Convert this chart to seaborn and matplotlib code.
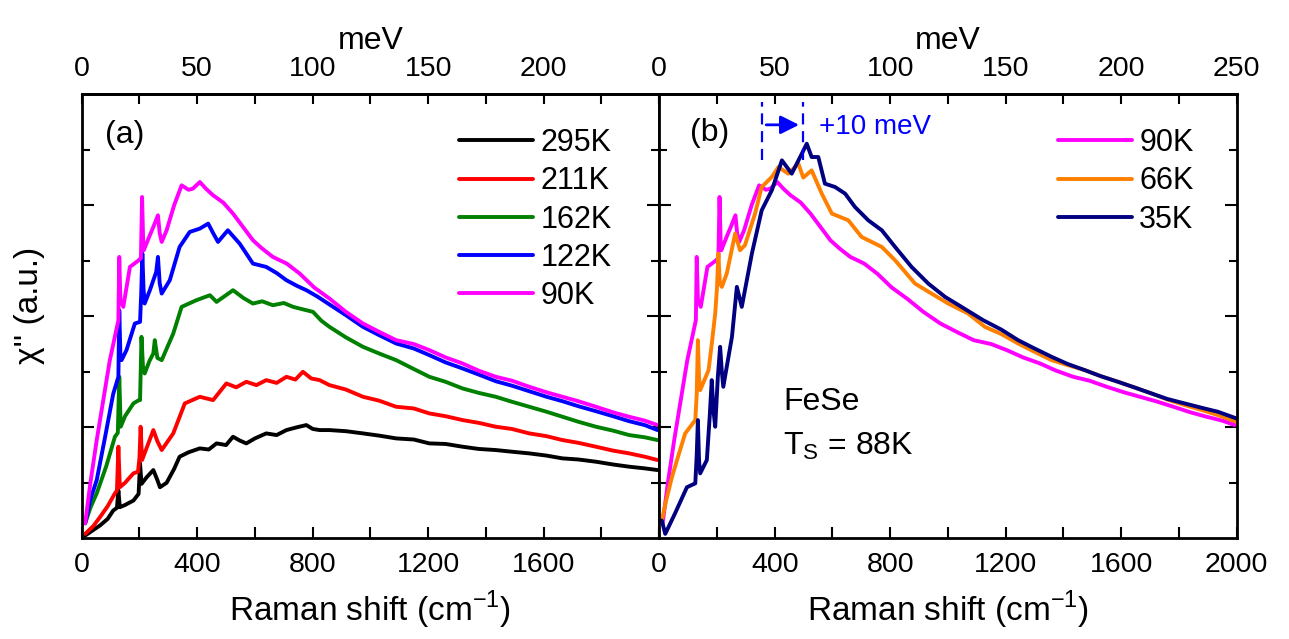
import matplotlib
matplotlib.use("Agg")
import matplotlib.pyplot as plt
import seaborn as sns

# Raman shift (cm^-1) and chi'' (a.u.), panel (a)
x_295 = [12, 40, 63, 90, 109, 122, 127, 132, 150, 179, 197, 202, 207, 225, 248, 262, 271, 294, 320, 339,
         370, 409, 440, 467, 500, 524, 548, 570, 600, 639, 675, 709, 745, 778, 800, 824, 858, 915, 974, 1030,
         1089, 1150, 1204, 1260, 1319, 1375, 1434, 1490, 1550, 1610, 1665, 1720, 1781, 1840, 1896, 1950, 1994]
y_295 = [0.05, 0.15, 0.23, 0.35, 0.50, 0.55, 0.86, 0.56, 0.60, 0.68, 0.80, 1.35, 0.98, 1.10, 1.23, 1.05, 0.92,
         1.00, 1.25, 1.47, 1.55, 1.62, 1.60, 1.71, 1.68, 1.83, 1.76, 1.71, 1.80, 1.89, 1.86, 1.95, 2.00, 2.04,
         1.97, 1.95, 1.95, 1.93, 1.89, 1.85, 1.80, 1.78, 1.71, 1.70, 1.65, 1.61, 1.59, 1.56, 1.53, 1.49, 1.44,
         1.42, 1.38, 1.33, 1.29, 1.26, 1.23]

x_211 = [12, 40, 63, 90, 115, 122, 127, 132, 150, 179, 195, 200, 204, 209, 230, 248, 262, 277, 317, 357, 409,
         455, 501, 535, 570, 605, 639, 675, 709, 740, 766, 795, 824, 858, 915, 974, 1030, 1089, 1150, 1204,
         1260, 1319, 1375, 1434, 1490, 1550, 1610, 1665, 1720, 1781, 1840, 1896, 1950, 1994]
y_211 = [0.08, 0.22, 0.38, 0.58, 0.81, 0.86, 1.65, 0.92, 1.00, 1.17, 1.20, 1.45, 2.01, 1.41, 1.70, 1.95, 1.75,
         1.59, 1.89, 2.43, 2.55, 2.49, 2.79, 2.72, 2.82, 2.76, 2.85, 2.80, 2.91, 2.86, 3.00, 2.88, 2.85, 2.76,
         2.68, 2.55, 2.48, 2.37, 2.34, 2.25, 2.20, 2.13, 2.08, 2.01, 1.97, 1.89, 1.84, 1.77, 1.72, 1.65, 1.58,
         1.53, 1.47, 1.41]

x_162 = [12, 30, 52, 85, 115, 125, 130, 135, 150, 179, 198, 202, 207, 212, 218, 235, 248, 253, 262, 277, 317,
         346, 397, 444, 467, 524, 560, 593, 625, 662, 700, 732, 770, 801, 830, 858, 915, 974, 1030, 1089, 1150,
         1204, 1260, 1319, 1375, 1434, 1490, 1550, 1610, 1665, 1720, 1781, 1840, 1896, 1950, 1994]
y_162 = [0.27, 0.55, 0.81, 1.30, 1.83, 1.90, 2.91, 2.01, 2.20, 2.43, 2.49, 2.49, 3.63, 3.10, 2.97, 3.20, 3.33,
         3.57, 3.25, 3.21, 3.69, 4.17, 4.29, 4.38, 4.26, 4.47, 4.33, 4.23, 4.27, 4.20, 4.24, 4.17, 4.12, 4.08,
         3.92, 3.81, 3.62, 3.45, 3.33, 3.21, 3.05, 2.91, 2.82, 2.70, 2.62, 2.55, 2.46, 2.37, 2.28, 2.19, 2.10,
         2.01, 1.94, 1.86, 1.82, 1.77]

x_122 = [12, 30, 52, 80, 109, 127, 130, 134, 138, 155, 184, 202, 206, 210, 214, 218, 236, 258, 264, 270, 277,
         305, 339, 374, 409, 438, 455, 472, 506, 547, 593, 639, 675, 709, 745, 778, 815, 853, 915, 974, 1030,
         1089, 1150, 1204, 1260, 1319, 1375, 1434, 1490, 1550, 1610, 1665, 1720, 1781, 1840, 1896, 1950, 1994]
y_122 = [0.27, 0.70, 1.05, 1.80, 2.60, 2.91, 4.11, 3.30, 3.21, 3.39, 3.87, 3.90, 4.40, 5.13, 4.50, 4.23, 4.47,
         4.80, 5.07, 4.60, 4.41, 4.65, 5.25, 5.52, 5.58, 5.67, 5.50, 5.34, 5.55, 5.31, 4.95, 4.89, 4.78, 4.65,
         4.55, 4.47, 4.36, 4.23, 4.02, 3.81, 3.66, 3.51, 3.42, 3.30, 3.17, 3.06, 2.95, 2.83, 2.75, 2.65, 2.55,
         2.47, 2.38, 2.29, 2.20, 2.11, 2.04, 1.95]

# 90K is shown in both panels
x_90 = [12, 30, 52, 75, 97, 127, 130, 134, 144, 167, 195, 205, 209, 213, 215, 235, 248, 264, 270, 277, 294,
        320, 346, 370, 385, 409, 430, 455, 490, 524, 560, 593, 625, 662, 710, 755, 805, 858, 915, 974, 1030,
        1089, 1150, 1204, 1260, 1319, 1375, 1434, 1490, 1550, 1610, 1665, 1720, 1781, 1840, 1896, 1950, 1994]
y_90 = [0.27, 1.00, 1.77, 2.50, 3.20, 3.93, 5.07, 4.30, 4.17, 4.89, 5.00, 5.05, 6.15, 5.30, 5.19, 5.45, 5.61,
        5.82, 5.50, 5.34, 5.55, 6.00, 6.36, 6.28, 6.30, 6.42, 6.30, 6.18, 6.05, 5.85, 5.60, 5.37, 5.22, 5.07,
        4.95, 4.77, 4.52, 4.32, 4.08, 3.87, 3.72, 3.57, 3.50, 3.39, 3.26, 3.15, 3.02, 2.91, 2.84, 2.73, 2.63,
        2.55, 2.47, 2.37, 2.27, 2.19, 2.12, 2.04]

# panel (b)
x_66 = [9, 25, 44, 67, 90, 125, 130, 134, 138, 142, 171, 182, 194, 200, 205, 210, 217, 234, 263, 280, 297, 332,
        355, 390, 413, 447, 482, 499, 528, 563, 598, 655, 701, 771, 817, 886, 943, 1001, 1070, 1128, 1185, 1243,
        1300, 1359, 1415, 1474, 1530, 1589, 1645, 1705, 1760, 1820, 1880, 1935, 1999]
y_66 = [0.32, 0.70, 1.10, 1.50, 1.89, 2.13, 2.60, 3.57, 2.90, 2.67, 3.03, 3.50, 4.05, 4.50, 5.13, 4.60, 4.53,
        4.77, 5.49, 5.19, 5.28, 5.85, 6.33, 6.51, 6.69, 6.57, 6.75, 6.50, 6.63, 6.21, 5.85, 5.73, 5.43, 5.25,
        5.01, 4.59, 4.41, 4.23, 4.05, 3.81, 3.68, 3.51, 3.36, 3.21, 3.12, 3.03, 2.92, 2.82, 2.72, 2.61, 2.50,
        2.40, 2.31, 2.22, 2.10]

x_35 = [9, 21, 55, 96, 125, 130, 134, 138, 142, 165, 175, 182, 188, 194, 203, 211, 217, 222, 252, 269, 286, 321,
        355, 390, 425, 459, 494, 511, 528, 551, 574, 609, 644, 678, 724, 771, 817, 874, 932, 990, 1047, 1122,
        1185, 1243, 1300, 1359, 1415, 1474, 1530, 1589, 1645, 1705, 1760, 1820, 1880, 1935, 1999]
y_35 = [0.32, 0.08, 0.45, 0.92, 0.99, 1.50, 2.13, 1.40, 1.17, 1.41, 2.20, 2.85, 2.30, 2.01, 2.90, 3.45, 3.00,
        2.73, 3.63, 4.53, 4.17, 5.13, 5.91, 6.27, 6.81, 6.57, 6.93, 7.11, 6.87, 6.87, 6.39, 6.33, 6.21, 5.97,
        5.73, 5.55, 5.25, 4.89, 4.59, 4.35, 4.17, 3.93, 3.76, 3.57, 3.42, 3.27, 3.14, 3.03, 2.92, 2.82, 2.72,
        2.61, 2.51, 2.43, 2.35, 2.28, 2.16]

panel_a = [(x_295, y_295, "295K", "black"), (x_211, y_211, "211K", "red"),
           (x_162, y_162, "162K", "green"), (x_122, y_122, "122K", "blue"),
           (x_90, y_90, "90K", "magenta")]
panel_b = [(x_90, y_90, "90K", "magenta"), (x_66, y_66, "66K", "#ff8000"),
           (x_35, y_35, "35K", "navy")]

# 1 meV taken as 8 cm^-1 on the top axis
CM_PER_MEV = 8.0

sns.set_theme(style="ticks")
plt.rcParams['font.family'] = ['Liberation Sans', 'DejaVu Sans']
plt.rcParams['mathtext.fontset'] = 'custom'
plt.rcParams['mathtext.rm'] = 'Liberation Sans'
plt.rcParams['axes.linewidth'] = 2.0
for key in ['text.color', 'axes.labelcolor', 'xtick.color', 'ytick.color', 'axes.edgecolor']:
    plt.rcParams[key] = 'black'

fig = plt.figure(figsize=(12.89, 6.39), dpi=100)
ax1 = fig.add_axes([0.0634, 0.1576, 0.4480, 0.6948])
ax2 = fig.add_axes([0.5114, 0.1576, 0.4480, 0.6948])


def style_axes(ax, bottom_labels, top_labels):
    ax.set_xlim(0, 2000)
    ax.set_ylim(0, 8)
    ax.set_xticks([0, 400, 800, 1200, 1600, 2000])
    ax.set_xticklabels(bottom_labels)
    ax.set_xticks(range(200, 2000, 400), minor=True)
    ax.set_yticks([2, 4, 6])
    ax.set_yticks([1, 3, 5, 7], minor=True)
    ax.set_yticklabels([])
    ax.tick_params(axis="x", which="both", direction="in", length=8, width=1.5, top=False,
                   labelsize=20.5, pad=10)
    ax.tick_params(axis="y", which="major", direction="in", length=8.5, width=1.5, left=True, right=True)
    ax.tick_params(axis="y", which="minor", direction="in", length=5.5, width=1.5, left=True, right=True)
    ax.set_xlabel("Raman shift (cm$^\\mathregular{-1}$)", fontsize=24, labelpad=8)
    ax.set_ylabel("")

    top = ax.secondary_xaxis("top", functions=(lambda x: x / CM_PER_MEV, lambda m: m * CM_PER_MEV))
    top.set_xticks([0, 50, 100, 150, 200, 250])
    top.set_xticklabels(top_labels)
    top.set_xticks(range(25, 250, 50), minor=True)
    top.tick_params(which="both", direction="in", length=7.5, width=1.5, labelsize=20.5, pad=9)
    top.set_xlabel("meV", fontsize=23, labelpad=5)


for xs, ys, lab, col in panel_a:
    sns.lineplot(x=xs, y=ys, ax=ax1, color=col, lw=2.8, label=lab, sort=False, estimator=None)
for xs, ys, lab, col in panel_b:
    sns.lineplot(x=xs, y=ys, ax=ax2, color=col, lw=2.8, label=lab, sort=False, estimator=None)

style_axes(ax1, ["0", "400", "800", "1200", "1600", ""], ["0", "50", "100", "150", "200", ""])
style_axes(ax2, ["0", "400", "800", "1200", "1600", "2000"], ["0", "50", "100", "150", "200", "250"])

ax1.set_ylabel("\u03c7'' (a.u.)", fontsize=24)
ax1.yaxis.set_label_coords(-0.064, 0.525)

leg_kw = dict(loc="upper left", frameon=False, fontsize=22, handlelength=2.4, handletextpad=0.25,
              labelspacing=0.27, borderpad=0, borderaxespad=0)
ax1.legend(bbox_to_anchor=(0.654, 0.924), **leg_kw)
ax2.legend(bbox_to_anchor=(0.691, 0.924), **leg_kw)

ax1.text(80, 7.12, "(a)", fontsize=23)
ax2.text(107, 7.15, "(b)", fontsize=23)

# shift of the peak between 90K and 35K
for xv in [357, 499]:
    ax2.plot([xv, xv], [6.82, 7.87], color="blue", lw=1.6, ls=(0, (5, 3)))
ax2.annotate("", xy=(494, 7.45), xytext=(361, 7.45),
             arrowprops=dict(arrowstyle="-|>", color="blue", lw=2.0, mutation_scale=28))
ax2.text(552, 7.42, "+10 meV", color="blue", fontsize=20, va="center")

ax2.text(429, 2.32, "FeSe", fontsize=23)
ax2.text(429, 1.50, "T$_\\mathregular{S}$ = 88K", fontsize=23)

fig.savefig("out.png", dpi=100)
